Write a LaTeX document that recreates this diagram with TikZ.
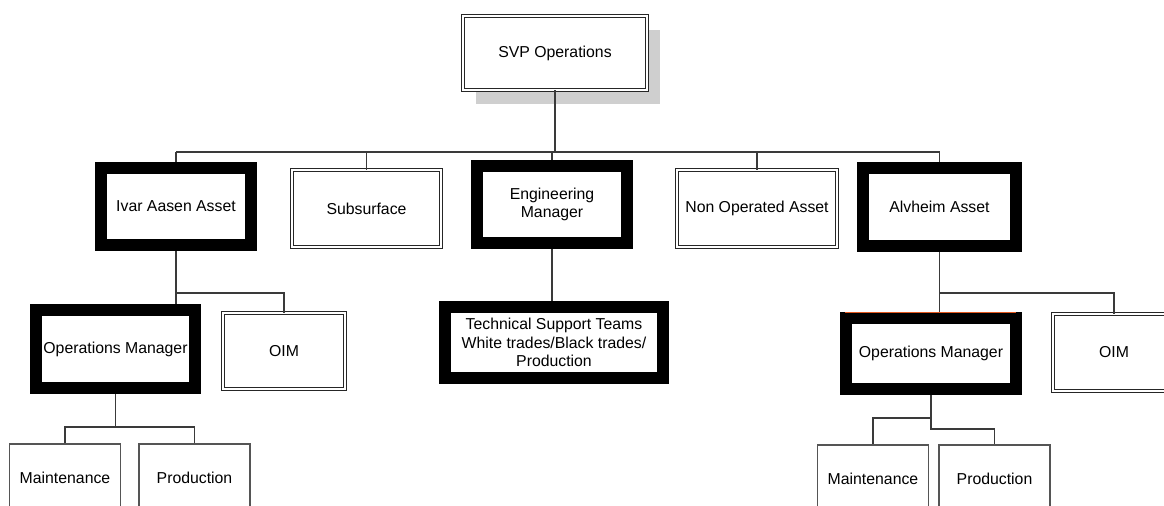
\documentclass[tikz,border=0pt]{standalone}
\usepackage{fontspec}
\setmainfont{Liberation Sans}
\usetikzlibrary{shadows}
\definecolor{linegray}{HTML}{3A3A3A}
\definecolor{boxgray}{HTML}{555555}
\definecolor{shadowgray}{HTML}{CFCFCF}
\definecolor{markorange}{HTML}{E2571E}

\begin{document}
\begin{tikzpicture}[x=0.02cm, y=-0.02cm,
    every node/.style={font=\fontsize{9}{10.7}\selectfont, align=center, inner sep=0pt, fill=white},
    heavy/.style={draw=black, line width=0.24cm},
    dbl/.style={draw=black!85, double=white, double distance=1.2pt, line width=0.5pt},
    plain/.style={draw=boxgray, line width=0.6pt},
    link/.style={draw=linegray, line width=0.6pt}]

\useasboundingbox (0,0) rectangle (1164,506);
\clip (0,0) rectangle (1164,506);

% top
\node[dbl, minimum width=3.68cm, minimum height=1.48cm,
      drop shadow={shadow xshift=0.26cm, shadow yshift=-0.28cm, fill=shadowgray, opacity=1}]
      (svp) at (555,53) {SVP Operations};

% second row
\node[heavy, minimum width=3cm, minimum height=1.54cm](ivar) at (176,206.5) {Ivar Aasen Asset};
\node[dbl, minimum width=2.98cm, minimum height=1.54cm](subs) at (366.5,208.5) {Subsurface};
\node[heavy, minimum width=3cm, minimum height=1.54cm](eng) at (552,204.5) {Engineering\\Manager};
\node[dbl, minimum width=3.2cm, minimum height=1.54cm](nonop) at (757,208.5) {Non Operated Asset};
\node[heavy, minimum width=3.06cm, minimum height=1.56cm](alv) at (939.5,207) {Alvheim Asset};

% third row
\node[heavy, minimum width=3.18cm, minimum height=1.56cm](opsA) at (115.5,349) {Operations Manager};
\node[dbl, minimum width=2.44cm, minimum height=1.52cm](oimA) at (284,351) {OIM};
\node[heavy, minimum width=4.36cm, minimum height=1.42cm](tech) at (554,342.5)
      {Technical Support Teams\\White trades/Black trades/\\Production};
\node[heavy, minimum width=3.4cm, minimum height=1.42cm](opsB) at (931,353.5) {Operations Manager};
\node[dbl, minimum width=2.44cm, minimum height=1.54cm](oimB) at (1114,352.5) {OIM};

% bottom row
\node[plain, minimum width=2.22cm, minimum height=1.36cm](mntA) at (65,478) {Maintenance};
\node[plain, minimum width=2.22cm, minimum height=1.36cm](prdA) at (194.5,478) {Production};
\node[plain, minimum width=2.22cm, minimum height=1.36cm](mntB) at (873,479) {Maintenance};
\node[plain, minimum width=2.22cm, minimum height=1.36cm](prdB) at (994.5,479) {Production};

% junction heights
\coordinate (bar) at (0,152);
\coordinate (jA) at (0,293);
\coordinate (kA) at (0,427);
\coordinate (jB) at (0,293);
\coordinate (kB1) at (0,418);
\coordinate (kB2) at (0,429);

\draw[link] (svp.south) -- (svp.south |- bar);
\draw[link] (ivar.north |- bar) -- (alv.north |- bar);
\foreach \n in {ivar,subs,eng,nonop,alv}
    \draw[link] (\n.north) -- (\n.north |- bar);

\draw[link] (ivar.south) -- (ivar.south |- opsA.north);
\draw[link] (ivar.south |- jA) -| (oimA.north);
\draw[link] (opsA.south) -- (opsA.south |- kA);
\draw[link] (mntA.north) |- (prdA.north |- kA) -- (prdA.north);

\draw[link] (eng.south) -- (eng.south |- tech.north);

\draw[link] (alv.south) -- (alv.south |- opsB.north);
\draw[link] (alv.south |- jB) -| (oimB.north);
\draw[link] (opsB.south) -- (opsB.south |- kB2) -| (prdB.north);
\draw[link] (opsB.south |- kB1) -| (mntB.north);

\draw[markorange, line width=0.5pt] ([xshift=0.1cm]opsB.north west) -- ([xshift=-0.12cm]opsB.north east);

\end{tikzpicture}
\end{document}
